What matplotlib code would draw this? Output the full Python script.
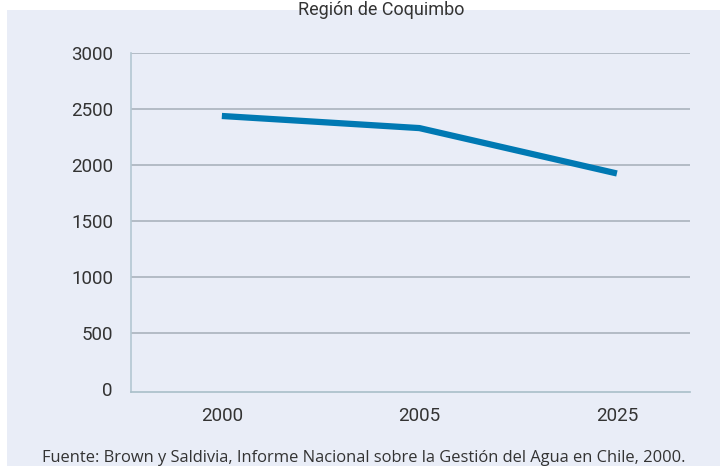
import matplotlib
matplotlib.use('Agg')
import matplotlib.pyplot as plt
from matplotlib.patches import Rectangle

# data
years = ['2000', '2005', '2025']
caudal = [2438, 2330, 1925]
yticks = [0, 500, 1000, 1500, 2000, 2500, 3000]

titulo = 'Región de Coquimbo'
fuente = 'Fuente: Brown y Saldivia, Informe Nacional sobre la Gestión del Agua en Chile, 2000.'

bg = '#e9edf7'
fig = plt.figure(figsize=(7.2, 4.66), dpi=100)
fig.patch.set_facecolor('white')
fig.patches.append(Rectangle((7/720, 0), 1, (466-10)/466, transform=fig.transFigure,
                             facecolor=bg, edgecolor='none', zorder=-5))

ax = fig.add_axes([131/720, 1-392/466, (690-131)/720, (392-53)/466])
ax.set_zorder(2)
ax.patch.set_alpha(0)

x = list(range(len(years)))
ax.plot(x, caudal, color='#0079b3', linewidth=4.5, solid_capstyle='butt', zorder=3)

ax.set_xlim(-0.46, 2.37)
ax.set_ylim(-25, 3000)
tick_font = dict(fontfamily='Roboto', fontweight='normal', fontsize=13.5, color='#333333')
ax.set_yticks(yticks)
ax.set_yticklabels([str(v) for v in yticks], **tick_font)
ax.set_xticks(x)
ax.set_xticklabels(years, **tick_font)
ax.tick_params(axis='both', length=0)
ax.tick_params(axis='y', pad=13)
ax.tick_params(axis='x', pad=11)

for v in yticks[1:]:
    ax.axhline(v, color='#aab3bd', linewidth=1.2, zorder=1)

for s in ['top', 'right']:
    ax.spines[s].set_visible(False)
ax.spines['left'].set_color('#b4c7d2')
ax.spines['left'].set_linewidth(1.2)
ax.spines['bottom'].set_color('#a9bfc9')
ax.spines['bottom'].set_linewidth(1.2)

fig.text(381/720, 1-1/466, titulo, ha='center', va='top', fontsize=13,
         fontfamily='Roboto', color='#333333', zorder=5)
fig.text(42/720, 1-458/466, fuente, ha='left', va='center', fontsize=11.9,
         fontfamily='Open Sans', color='#333333')

fig.savefig('out.png', dpi=100, facecolor='white')
